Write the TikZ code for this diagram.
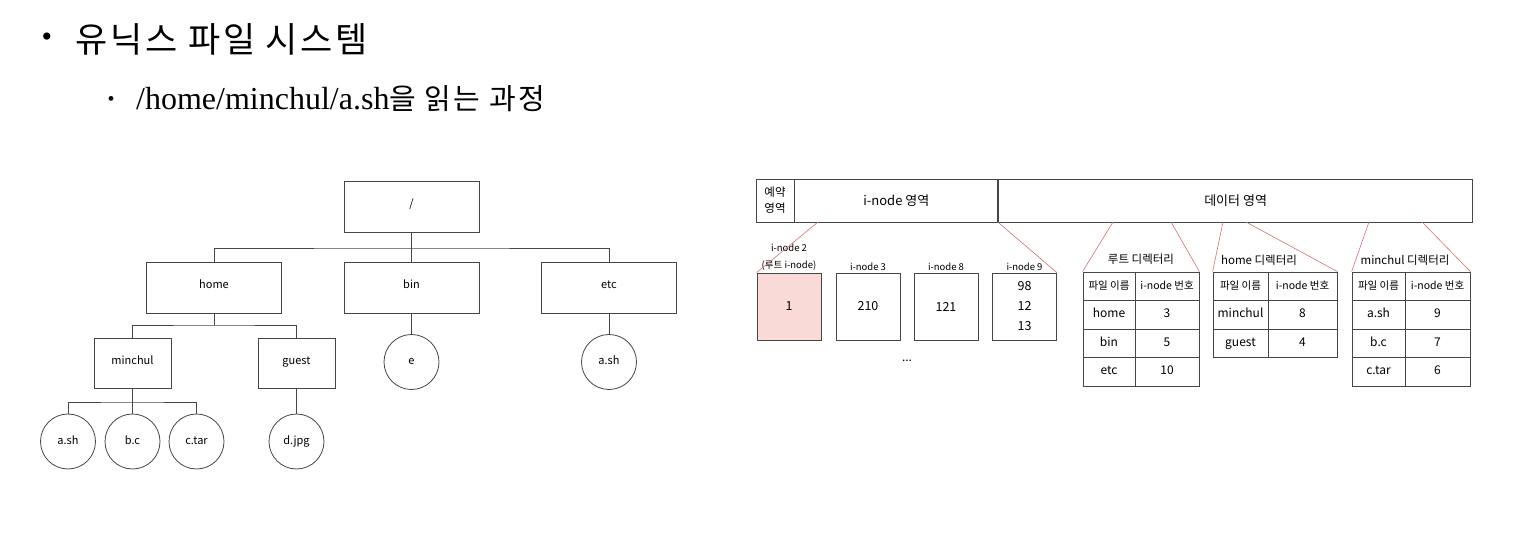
\documentclass[tikz,border=0pt]{standalone}
\usepackage{fontspec}
\setmainfont{Liberation Serif}
\newfontfamily\krfont{Noto Sans CJK KR}
\newfontfamily\krwide{Noto Sans CJK KR}[LetterSpace=8]
\definecolor{fsLine}{RGB}{70,70,70}
\definecolor{fsRed}{RGB}{214,110,110}
\definecolor{fsPink}{RGB}{250,218,214}
\begin{document}
\begin{tikzpicture}[x=1pt,y=-1pt,
    dirBox/.style={rectangle,draw=fsLine,line width=0.8pt,minimum width=135pt,minimum height=51pt,inner sep=0pt,text height=8pt,text depth=5pt,font=\krfont\fontsize{11}{13}\selectfont},
    subBox/.style={dirBox,minimum width=77pt,minimum height=50pt},
    fileNode/.style={circle,draw=fsLine,line width=0.8pt,minimum size=55pt,inner sep=0pt,text height=8pt,text depth=3pt,font=\krfont\fontsize{11}{13}\selectfont},
    treeLine/.style={draw=fsLine,line width=0.8pt},
    areaBox/.style={rectangle,draw=fsLine,line width=0.8pt,minimum height=43pt,inner sep=0pt,font=\krfont\fontsize{13}{15}\selectfont},
    inodeBox/.style={rectangle,draw=fsLine,line width=0.8pt,minimum width=64pt,minimum height=67pt,inner sep=0pt,align=center,font=\krfont\fontsize{12.5}{20}\selectfont},
    inodeTag/.style={anchor=south,inner sep=2pt,align=center,font=\krfont\fontsize{9.5}{17}\selectfont},
    cellBox/.style={rectangle,draw=fsLine,line width=0.8pt,minimum height=28.5pt,inner sep=0pt,text height=9pt,text depth=3pt,font=\krfont\fontsize{12}{14}\selectfont},
    headBox/.style={cellBox,font=\krfont\fontsize{10.5}{12}\selectfont},
    tabTitle/.style={inner sep=0pt,font=\krfont\fontsize{11.5}{13}\selectfont},
    zoomLine/.style={draw=fsRed,line width=0.6pt},
]
\useasboundingbox (0,0) rectangle (1528,534);
% heading
\node[anchor=west,font=\fontsize{30}{32}\selectfont] (bulletA) at (38,40) {\textbullet};
\node[anchor=west,inner sep=0pt,font=\krwide\fontsize{35}{37}\selectfont] (title) at (75,39) {유닉스 파일 시스템};
\node[anchor=west,font=\fontsize{20}{24}\selectfont] (bulletB) at (104,101) {\textbullet};
\node[anchor=west,inner sep=0pt,font=\fontsize{32}{34}\selectfont] (subtitle) at (136,99) {/home/minchul/a.sh{\krwide\fontsize{29}{34}\selectfont 을 읽는 과정}};

% directory tree
\node[dirBox] (root) at (411.5,206.5) {/};
\node[dirBox] (home) at (214,287.5) {home};
\node[dirBox] (bin) at (411.5,287.5) {bin};
\node[dirBox] (etc) at (609,287.5) {etc};
\node[subBox] (minchul) at (132.5,363) {minchul};
\node[subBox] (guest) at (296.5,363) {guest};
\node[fileNode] (binE) at (411.5,362) {e};
\node[fileNode] (etcAsh) at (609,362) {a.sh};
\node[fileNode] (ash) at (68,441.5) {a.sh};
\node[fileNode] (bc) at (132.5,441.5) {b.c};
\node[fileNode] (ctar) at (196.5,441.5) {c.tar};
\node[fileNode] (djpg) at (296.5,441.5) {d.jpg};
\coordinate (rootBus) at (411.5,248);
\coordinate (homeBus) at (214,325);
\coordinate (minchulBus) at (132.5,402);
\draw[treeLine] (root.south) -- (rootBus) -- (bin.north);
\draw[treeLine] (home.north) |- (rootBus) -| (etc.north);
\draw[treeLine] (home.south) -- (homeBus);
\draw[treeLine] (minchul.north) |- (homeBus) -| (guest.north);
\draw[treeLine] (minchul.south) -- (minchulBus) -- (bc.north);
\draw[treeLine] (ash.north) |- (minchulBus) -| (ctar.north);
\draw[treeLine] (guest) -- (djpg);
\draw[treeLine] (bin) -- (binE);
\draw[treeLine] (etc) -- (etcAsh);

% disk layout
\node[areaBox,minimum width=38pt,align=center,font=\krfont\fontsize{11.5}{16}\selectfont] (reserved) at (775,200.5) {예약\\영역};
\node[areaBox,minimum width=203pt,anchor=west] (inodeArea) at (reserved.east) {i-node 영역};
\node[areaBox,minimum width=474pt,anchor=west] (dataArea) at (inodeArea.east) {데이터 영역};

% i-nodes
\node[inodeBox,fill=fsPink] (ino2) at (789,306.5) {1};
\node[inodeBox] (ino3) at (868,306.5) {210};
\node[inodeBox] (ino8) at (946,306.5) {121};
\node[inodeBox] (ino9) at (1024.5,306.5) {98\\12\\13};
\node[inodeTag] (tag2) at (ino2.north) {i-node 2\\(루트 i-node)};
\node[inodeTag] (tag3) at (ino3.north) {i-node 3};
\node[inodeTag] (tag8) at (ino8.north) {i-node 8};
\node[inodeTag] (tag9) at (ino9.north) {i-node 9};
\node[font=\krfont\fontsize{12}{14}\selectfont] (dots) at (907,361) {...};
\coordinate (inoFrom) at (818,222);
\draw[zoomLine] (inoFrom) -- (ino2.north west);
\draw[zoomLine] (inodeArea.south east) -- (ino9.north east);

% root directory
\node[tabTitle] (rootTitle) at (1141,259) {루트 디렉터리};
\node[headBox,minimum width=52pt] (rootH1) at (1109,286.25) {파일 이름};
\node[headBox,minimum width=64pt] (rootH2) at (1167,286.25) {i-node 번호};
\foreach \fname/\fnum [count=\r] in {home/3,bin/5,etc/10} {
    \node[cellBox,minimum width=52pt] (rootL\r) at (1109,286.25+28.5*\r) {\fname};
    \node[cellBox,minimum width=64pt] (rootR\r) at (1167,286.25+28.5*\r) {\fnum};
}

% home directory
\node[tabTitle] (homeTitle) at (1259,260) {home 디렉터리};
\node[headBox,minimum width=55pt] (homeH1) at (1240.5,286.25) {파일 이름};
\node[headBox,minimum width=69pt] (homeH2) at (1302.5,286.25) {i-node 번호};
\foreach \fname/\fnum [count=\r] in {minchul/8,guest/4} {
    \node[cellBox,minimum width=55pt] (homeL\r) at (1240.5,286.25+28.5*\r) {\fname};
    \node[cellBox,minimum width=69pt] (homeR\r) at (1302.5,286.25+28.5*\r) {\fnum};
}

% minchul directory
\node[tabTitle] (minTitle) at (1405,260) {minchul 디렉터리};
\node[headBox,minimum width=53pt] (minH1) at (1378.5,286.25) {파일 이름};
\node[headBox,minimum width=65pt] (minH2) at (1437.5,286.25) {i-node 번호};
\foreach \fname/\fnum [count=\r] in {a.sh/9,b.c/7,c.tar/6} {
    \node[cellBox,minimum width=53pt] (minL\r) at (1378.5,286.25+28.5*\r) {\fname};
    \node[cellBox,minimum width=65pt] (minR\r) at (1437.5,286.25+28.5*\r) {\fnum};
}

% data blocks to directories
\coordinate (dRootA) at (1113,222);
\coordinate (dRootB) at (1171,222);
\coordinate (dHomeA) at (1223,222);
\coordinate (dHomeB) at (1246,222);
\coordinate (dMinA) at (1369,222);
\coordinate (dMinB) at (1422,222);
\draw[zoomLine] (dRootA) -- (rootH1.north west);
\draw[zoomLine] (dRootB) -- (rootH2.north east);
\draw[zoomLine] (dHomeA) -- (homeH1.north west);
\draw[zoomLine] (dHomeB) -- (homeH2.north east);
\draw[zoomLine] (dMinA) -- (minH1.north west);
\draw[zoomLine] (dMinB) -- (minH2.north east);
\end{tikzpicture}
\end{document}
